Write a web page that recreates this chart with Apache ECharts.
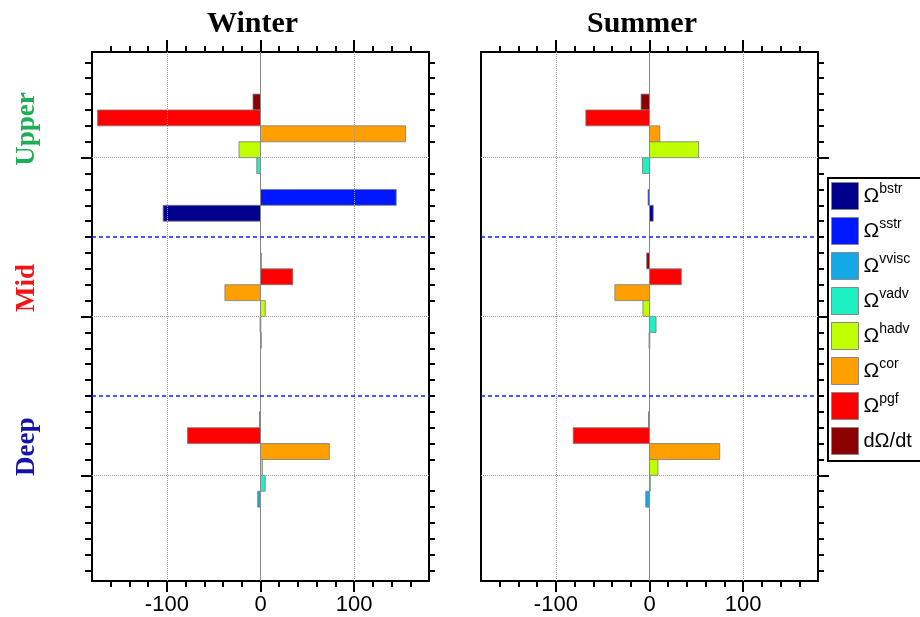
<!DOCTYPE html>
<html><head><meta charset="utf-8">
<script src="https://cdn.jsdelivr.net/npm/echarts@6/dist/echarts.min.js"></script>
<style>html,body{margin:0;padding:0;background:#fff}#c{width:920px;height:617px}</style>
</head><body><div id="c"></div>
<script>
// ---- data ----
const groups = ['Upper', 'Mid', 'Deep'];
const groupColors = ['#1fae55', '#f21515', '#1414a6'];
const terms = ['dOdt', 'pgf', 'cor', 'hadv', 'vadv', 'vvisc', 'sstr', 'bstr']; // top -> bottom inside a group
const legendOrder = ['bstr', 'sstr', 'vvisc', 'vadv', 'hadv', 'cor', 'pgf', 'dOdt'];
const termColors = ['#8b0000', '#ff0000', '#ffa000', '#bfff00', '#1ef0c4', '#14a8e6', '#0018ff', '#00008c'];
const xMajorTicks = [-100, 0, 100];
const xMinorTicks = [-160, -140, -120, -80, -60, -40, -20, 20, 40, 60, 80, 120, 140, 160];

// values [Upper, Mid, Deep]
const winterDOdt  = [-8, 0.5, -1];
const winterPgf   = [-174, 34.5, -78];
const winterCor   = [155, -38, 73.5];
const winterHadv  = [-23, 5, 2];
const winterVadv  = [-4, -0.5, 5];
const winterVvisc = [0, 0.5, -3];
const winterSstr  = [145, 0, 0];
const winterBstr  = [-104, 0, 0];

const summerDOdt  = [-9, -3, -1];
const summerPgf   = [-68, 34, -81.5];
const summerCor   = [11, -37, 75];
const summerHadv  = [52.5, -7, 9];
const summerVadv  = [-7.5, 7, 0.5];
const summerVvisc = [0, -0.5, -4];
const summerSstr  = [-1.5, 0, 0];
const summerBstr  = [4, 0, 0];

const seasons = [
  {title: 'Winter', values: [winterDOdt, winterPgf, winterCor, winterHadv, winterVadv, winterVvisc, winterSstr, winterBstr]},
  {title: 'Summer', values: [summerDOdt, summerPgf, summerCor, summerHadv, summerVadv, summerVvisc, summerSstr, summerBstr]}
];

// ---- layout ----
const SLOTS_PER_GROUP = 10;
const Y_MIN = -1.65, Y_MAX = 31.65;
const gridLefts = [92, 481];
const GRID_W = 337, GRID_TOP = 52, GRID_H = 529;
const yMinor = [];
for (let s = -1; s <= 31; s++) if (s % 10 !== 5) yMinor.push(s);
const yMajor = groups.map((g, i) => i * SLOTS_PER_GROUP + 5);
const yLabelPos = groups.map((g, i) => i * SLOTS_PER_GROUP + 3.2);
const ySeparators = [10, 20];

const chart = echarts.init(document.getElementById('c'), null, {renderer: 'canvas'});

const grid = [], xAxis = [], yAxis = [], series = [], graphic = [];
const black = '#000';

function xAx(gi, pos, ticks, len, labels) {
  xAxis.push({
    gridIndex: gi, type: 'value', min: -180, max: 180, position: pos,
    axisLine: {show: true, onZero: false, lineStyle: {color: black, width: 2}},
    axisTick: {show: true, inside: false, length: len, customValues: ticks, lineStyle: {color: black, width: 2}},
    axisLabel: labels ? {show: true, customValues: xMajorTicks, fontSize: 22, color: black, fontFamily: 'Liberation Sans', margin: 13} : {show: false},
    splitLine: {show: false}
  });
  return xAxis.length - 1;
}
function yAx(gi, pos, ticks, len, opts) {
  yAxis.push(Object.assign({
    gridIndex: gi, type: 'value', min: Y_MIN, max: Y_MAX, inverse: true, position: pos,
    axisLine: {show: true, onZero: false, lineStyle: {color: black, width: 2}},
    axisTick: ticks ? {show: true, inside: false, length: len, customValues: ticks, lineStyle: {color: black, width: 2}} : {show: false},
    axisLabel: {show: false},
    splitLine: {show: false}
  }, opts || {}));
  return yAxis.length - 1;
}

function renderBar(params, api) {
  const v = api.value(0), s = api.value(1);
  if (v === 0) return null;
  const p0 = api.coord([0, s]);
  const p1 = api.coord([v, s + 1]);
  const x = Math.min(p0[0], p1[0]);
  const w = Math.max(Math.abs(p1[0] - p0[0]), 0.8);
  return {
    type: 'rect',
    shape: {x: x, y: p0[1], width: w, height: p1[1] - p0[1]},
    style: api.style({stroke: '#7a7a7a', lineWidth: 0.8})
  };
}

seasons.forEach((season, gi) => {
  grid.push({left: gridLefts[gi], top: GRID_TOP, width: GRID_W, height: GRID_H, containLabel: false});
  const xb = xAx(gi, 'bottom', xMajorTicks, 11, true);
  xAx(gi, 'bottom', xMinorTicks, 6, false);
  xAx(gi, 'top', xMajorTicks, 12, false);
  xAx(gi, 'top', xMinorTicks, 6, false);
  let yl;
  if (gi === 0) {
    yl = yAx(gi, 'left', yMajor, 11);
    yAx(gi, 'left', yMinor, 7);
    yAx(gi, 'left', null, 0, {
      axisLine: {show: false},
      axisLabel: {
        show: true, customValues: yLabelPos, rotate: 90, margin: 51,
        formatter: v => { const i = Math.round((v - 3.2) / SLOTS_PER_GROUP); return '{g' + i + '|' + groups[i] + '}'; },
        rich: {
          g0: {color: groupColors[0], fontSize: 27, fontWeight: 'bold', fontFamily: 'Liberation Serif'},
          g1: {color: groupColors[1], fontSize: 27, fontWeight: 'bold', fontFamily: 'Liberation Serif'},
          g2: {color: groupColors[2], fontSize: 27, fontWeight: 'bold', fontFamily: 'Liberation Serif'}
        }
      }
    });
    yAx(gi, 'right', yMinor, 6);
  } else {
    yl = yAx(gi, 'left', null, 0);
    yAx(gi, 'right', yMinor, 6);
    yAx(gi, 'right', yMajor, 11);
  }
  // grid lines / separators behind bars
  series.push({
    type: 'line', xAxisIndex: xb, yAxisIndex: yl, data: [], silent: true, z: 1,
    markLine: {
      silent: true, symbol: 'none', label: {show: false}, animation: false,
      lineStyle: {color: '#9a9a9a', type: [1, 1], width: 1},
      data: [
        {xAxis: -100}, {xAxis: 100},
        {xAxis: 0, lineStyle: {type: 'solid', color: '#8a8a8a', width: 1}}
      ].concat(yMajor.map(v => ({yAxis: v})))
       .concat(ySeparators.map(v => ({yAxis: v, lineStyle: {color: '#1a1aff', type: [4, 3], width: 1.6}})))
    }
  });
  terms.forEach((t, ti) => {
    const vals = season.values[ti];
    series.push({
      type: 'custom', name: t, xAxisIndex: xb, yAxisIndex: yl, z: 3,
      itemStyle: {color: termColors[ti]},
      renderItem: renderBar,
      encode: {x: 0, y: 1},
      data: vals.map((v, g) => [v, g * SLOTS_PER_GROUP + 1 + ti])
    });
  });
  graphic.push({
    type: 'text', left: gi === 0 ? 207 : 587, top: 9,
    style: {text: season.title, font: 'bold 30px "Liberation Serif"', fill: black}
  });
});
// legend frame, running off the right edge like the original
graphic.push({
  type: 'rect', shape: {x: 828, y: 178, width: 140, height: 283},
  style: {fill: null, stroke: black, lineWidth: 2}, silent: true
});

const termText = {dOdt: 'dΩ/dt'};
chart.setOption({
  animation: false,
  backgroundColor: '#fff',
  grid, xAxis, yAxis, series, graphic,
  legend: {
    data: legendOrder, orient: 'vertical', left: 827, top: 177,
    icon: 'rect', itemWidth: 27, itemHeight: 27, itemGap: 7,
    padding: [5, 4, 5, 4],
    itemStyle: {borderColor: '#888', borderWidth: 1},
    selectedMode: false,
    formatter: n => termText[n] ? '{p|' + termText[n] + '}' : '{o|Ω}{s|' + n + '}',
    textStyle: {
      color: black, fontFamily: 'Liberation Sans', fontSize: 19,
      rich: {
        o: {fontSize: 21, fontFamily: 'Liberation Sans', color: black},
        s: {fontSize: 14, fontFamily: 'Liberation Sans', color: black, padding: [0, 0, 13, 0]},
        p: {fontSize: 20, fontFamily: 'Liberation Sans', color: black}
      }
    }
  }
});
</script>
</body></html>
